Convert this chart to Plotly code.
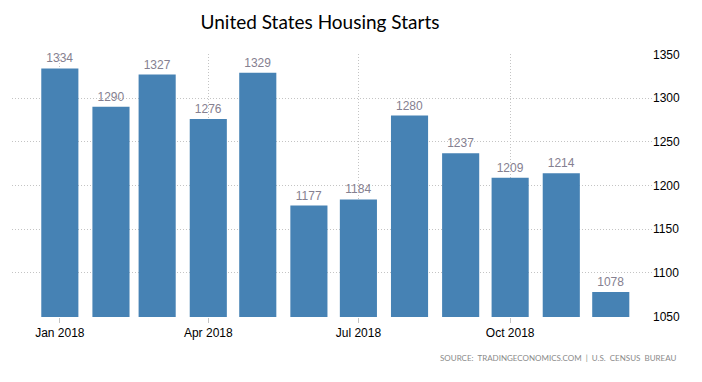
import plotly.graph_objects as go

months = ["2018-01-01", "2018-02-01", "2018-03-01", "2018-04-01", "2018-05-01", "2018-06-01",
          "2018-07-01", "2018-08-01", "2018-09-01", "2018-10-01", "2018-11-01", "2018-12-01"]
starts = [1334, 1290, 1327, 1276, 1329, 1177, 1184, 1280, 1237, 1209, 1214, 1078]
y_ticks = [1050, 1100, 1150, 1200, 1250, 1300, 1350]

DAY = 86400000
GRID = "#c4c4c4"

fig = go.Figure(go.Bar(
    x=months, y=starts,
    width=[22.5 * DAY] * len(months),
    marker=dict(color="#4682B4", line=dict(width=0)),
    text=[str(v) for v in starts],
    textposition="outside",
    textfont=dict(family="Liberation Sans, Arial", size=12, color="#858090"),
    cliponaxis=False,
))

fig.update_layout(
    width=694, height=374,
    margin=dict(l=4, r=50, t=46, b=65),
    paper_bgcolor="white", plot_bgcolor="white",
    showlegend=False,
    title=dict(text="United States Housing Starts", x=0.4496, xanchor="center", y=0.9626, yanchor="middle",
               font=dict(family="Lato, Open Sans", size=19, color="#000000")),
    font=dict(family="Liberation Sans, Arial", size=12, color="#000000"),
    xaxis=dict(
        type="date", range=["2017-12-03", "2018-12-26"],
        tick0="2018-01-01", dtick="M3", tickformat="%b %Y",
        showgrid=True, gridcolor=GRID, griddash="1px,2px", gridwidth=1,
        ticks="outside", ticklen=5, tickcolor=GRID,
        showline=False, zeroline=False,
        tickfont=dict(family="Liberation Sans, Arial", size=12, color="#000000"),
    ),
    yaxis=dict(
        side="right", range=[1049.5, 1350.5], tickvals=y_ticks,
        showgrid=True, gridcolor=GRID, griddash="1px,2px", gridwidth=1,
        zeroline=False, showline=False, ticks="",
        tickfont=dict(family="Liberation Sans, Arial", size=12, color="#000000"),
    ),
    annotations=[dict(
        text="SOURCE:  TRADINGECONOMICS.COM  |  U.S.  CENSUS  BUREAU",
        xref="paper", yref="paper", x=1.04, y=-0.156, xanchor="right", yanchor="middle",
        showarrow=False, font=dict(family="Lato, Open Sans", size=8, color="#8a8a8a"),
    )],
)

fig.write_html("out.html")
